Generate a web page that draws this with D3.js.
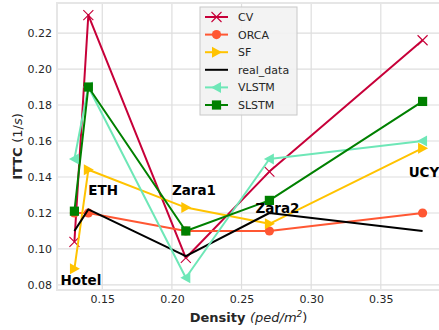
<!DOCTYPE html>
<html>
<head>
<meta charset="utf-8">
<script src="https://cdn.jsdelivr.net/npm/d3@7"></script>
<style>
  body { margin: 0; background: #fff; }
  svg { display: block; font-family: "DejaVu Sans", sans-serif; }
</style>
</head>
<body>
<div id="chart"></div>
<script>
// densities (ped/m^2) of the five datasets
const density = [0.13, 0.14, 0.21, 0.27, 0.38];

const cv = [0.104, 0.230, 0.095, 0.143, 0.216];
const orca = [0.120, 0.120, 0.110, 0.110, 0.120];
const sf = [0.089, 0.144, 0.123, 0.114, 0.156];
const realData = [0.110, 0.122, 0.096, 0.120, 0.110];
const vlstm = [0.150, 0.190, 0.084, 0.150, 0.160];
const slstm = [0.121, 0.190, 0.110, 0.127, 0.182];

const xTicks = [0.15, 0.20, 0.25, 0.30, 0.35];
const yTicks = [0.08, 0.10, 0.12, 0.14, 0.16, 0.18, 0.20, 0.22];

// dataset name labels placed in data coords
const sceneLabels = [
  { name: 'Hotel', x: 0.12, y: 0.08 },
  { name: 'ETH', x: 0.14, y: 0.13 },
  { name: 'Zara1', x: 0.20, y: 0.13 },
  { name: 'Zara2', x: 0.26, y: 0.12 },
  { name: 'UCY', x: 0.37, y: 0.14 }
];

const series = [
  { name: 'CV', values: cv, color: '#C70039', marker: 'x' },
  { name: 'ORCA', values: orca, color: '#FF5733', marker: 'circle' },
  { name: 'SF', values: sf, color: '#FFC300', marker: 'triRight' },
  { name: 'real_data', values: realData, color: '#000000', marker: null },
  { name: 'VLSTM', values: vlstm, color: '#6EE7B7', marker: 'triLeft' },
  { name: 'SLSTM', values: slstm, color: '#008000', marker: 'square' }
];

const W = 439, H = 330;
const margin = { top: 3, right: -1, bottom: 40, left: 57 };

const svg = d3.select('#chart').append('svg')
  .attr('width', W).attr('height', H);

const x = d3.scaleLinear()
  .domain([0.1175, 0.3925])
  .range([margin.left, W - margin.right]);

const y = d3.scaleLinear()
  .domain([0.0772, 0.2367])
  .range([H - margin.bottom, margin.top]);

const plot = svg.append('g');

// grid
plot.append('g')
  .selectAll('line')
  .data(xTicks)
  .enter().append('line')
  .attr('x1', d => x(d)).attr('x2', d => x(d))
  .attr('y1', y.range()[0]).attr('y2', y.range()[1])
  .attr('stroke', '#dedede').attr('stroke-width', 1.2);

plot.append('g')
  .selectAll('line')
  .data(yTicks)
  .enter().append('line')
  .attr('x1', x.range()[0]).attr('x2', x.range()[1])
  .attr('y1', d => y(d)).attr('y2', d => y(d))
  .attr('stroke', '#dedede').attr('stroke-width', 1.2);

// frame
plot.append('rect')
  .attr('x', x.range()[0]).attr('y', y.range()[1])
  .attr('width', x.range()[1] - x.range()[0])
  .attr('height', y.range()[0] - y.range()[1])
  .attr('fill', 'none')
  .attr('stroke', '#e6e6e6').attr('stroke-width', 2);

// axes (labels only, no tick marks)
const xAxis = svg.append('g')
  .attr('transform', `translate(0,${y.range()[0]})`)
  .call(d3.axisBottom(x).tickValues(xTicks).tickFormat(d3.format('.2f')).tickSize(0).tickPadding(5));
xAxis.select('.domain').remove();

const yAxis = svg.append('g')
  .attr('transform', `translate(${x.range()[0]},0)`)
  .call(d3.axisLeft(y).tickValues(yTicks).tickFormat(d3.format('.2f')).tickSize(0).tickPadding(5));
yAxis.select('.domain').remove();

svg.selectAll('.tick text')
  .style('font-family', '"DejaVu Sans", sans-serif')
  .style('font-size', '11px')
  .style('fill', '#262626');

// axis titles
const xt = svg.append('text')
  .attr('x', (x.range()[0] + x.range()[1]) / 2)
  .attr('y', 322)
  .attr('text-anchor', 'middle')
  .style('font-size', '13px')
  .style('fill', '#262626');
xt.append('tspan').attr('font-weight', 'bold').text('Density ');
xt.append('tspan').attr('font-style', 'italic').text('(ped/m');
xt.append('tspan').attr('font-style', 'italic').attr('dy', -5).style('font-size', '9px').text('2');
xt.append('tspan').attr('dy', 5).text(')');

const yt = svg.append('text')
  .attr('transform', `translate(22,${(y.range()[0] + y.range()[1]) / 2}) rotate(-90)`)
  .attr('text-anchor', 'middle')
  .style('font-size', '13px')
  .style('fill', '#262626');
yt.append('tspan').attr('font-weight', 'bold').text('ITTC ');
yt.append('tspan').text('(1/');
yt.append('tspan').attr('font-style', 'italic').text('s');
yt.append('tspan').text(')');

// marker drawing
function drawMarker(g, type, color) {
  if (type === 'x') {
    g.append('path')
      .attr('d', 'M-5,-5L5,5M-5,5L5,-5')
      .attr('stroke', color).attr('stroke-width', 1.1).attr('fill', 'none');
  } else if (type === 'circle') {
    g.append('circle').attr('r', 4.6).attr('fill', color);
  } else if (type === 'square') {
    g.append('rect').attr('x', -4.6).attr('y', -4.6).attr('width', 9.2).attr('height', 9.2)
      .attr('fill', color);
  } else if (type === 'triRight') {
    g.append('path').attr('d', 'M5.5,0L-4.5,-5.5L-4.5,5.5Z').attr('fill', color);
  } else if (type === 'triLeft') {
    g.append('path').attr('d', 'M-5.5,0L4.5,-5.5L4.5,5.5Z').attr('fill', color);
  }
}

const line = d3.line()
  .x(d => x(d[0]))
  .y(d => y(d[1]));

series.forEach(s => {
  const pts = density.map((d, i) => [d, s.values[i]]);
  const g = plot.append('g');
  g.append('path')
    .datum(pts)
    .attr('d', line)
    .attr('fill', 'none')
    .attr('stroke', s.color)
    .attr('stroke-width', 2)
    .attr('stroke-linejoin', 'round');
  if (s.marker) {
    pts.forEach(p => {
      const m = g.append('g').attr('transform', `translate(${x(p[0])},${y(p[1])})`);
      drawMarker(m, s.marker, s.color);
    });
  }
});

// dataset labels
svg.append('g')
  .selectAll('text')
  .data(sceneLabels)
  .enter().append('text')
  .attr('x', d => x(d.x))
  .attr('y', d => y(d.y))
  .text(d => d.name)
  .style('font-size', '13.5px')
  .style('font-weight', 'bold')
  .style('fill', '#000');

// legend
const legend = svg.append('g').attr('transform', 'translate(200,7)');
legend.append('rect')
  .attr('width', 97).attr('height', 108)
  .attr('fill', '#f2f2f2').attr('fill-opacity', 0.9)
  .attr('stroke', '#c8c8c8').attr('stroke-width', 1);

series.forEach((s, i) => {
  const row = legend.append('g').attr('transform', `translate(0,${10 + i * 17.6})`);
  row.append('line')
    .attr('x1', 5).attr('x2', 28)
    .attr('stroke', s.color).attr('stroke-width', 2);
  if (s.marker) {
    const m = row.append('g').attr('transform', 'translate(16.5,0)');
    drawMarker(m, s.marker, s.color);
  }
  row.append('text')
    .attr('x', 38).attr('y', 4)
    .text(s.name)
    .style('font-size', '11px')
    .style('fill', '#262626');
});
</script>
</body>
</html>
